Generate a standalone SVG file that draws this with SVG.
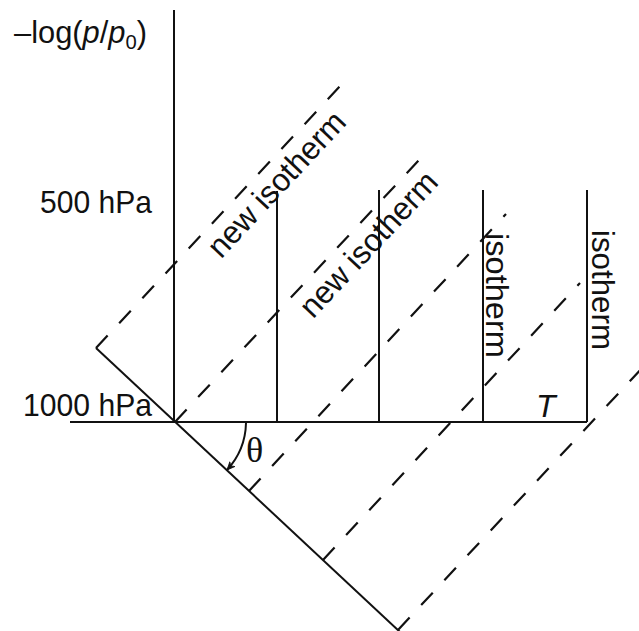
<svg xmlns="http://www.w3.org/2000/svg" width="639" height="631" viewBox="0 0 639 631">
<style>
.ax{stroke:#111;stroke-width:2;fill:none}
.ds{stroke:#111;stroke-width:2.2;fill:none;stroke-dasharray:17 17}
.t{font-family:"Liberation Sans",Arial,sans-serif;font-size:32px;fill:#111}
</style>
<defs>
<marker id="ah" markerWidth="10" markerHeight="10" refX="8" refY="5" orient="auto" markerUnits="userSpaceOnUse">
<path d="M0,1.5 L8,5 L0,8.5 L2.5,5 Z" fill="#111" stroke="#111" stroke-width="0.8"/>
</marker>
</defs>
<rect width="639" height="631" fill="#fff"/>
<g id="connectors">
<line class="ax" x1="174" y1="10" x2="174" y2="422"/>
<line class="ax" x1="70" y1="422" x2="587" y2="422"/>
<line class="ax" x1="96" y1="348" x2="400" y2="632"/>
<line class="ax" x1="277" y1="191" x2="277" y2="422"/>
<line class="ax" x1="379" y1="190" x2="379" y2="422"/>
<line class="ax" x1="483" y1="190" x2="483" y2="422"/>
<line class="ax" x1="587" y1="190" x2="587" y2="422"/>
<line class="ds" x1="96" y1="348" x2="342" y2="84"/>
<line class="ds" x1="175" y1="422" x2="419" y2="160"/>
<line class="ds" x1="249" y1="491" x2="506" y2="214"/>
<line class="ds" x1="323" y1="560" x2="580" y2="283"/>
<line class="ds" x1="398" y1="630" x2="657" y2="352"/>
<path class="ax" d="M246,423 A72,72 0 0 1 227,470" stroke-width="1.6" marker-end="url(#ah)"/>
</g>
<g id="axis-label"><text class="t" x="14" y="43" textLength="133" lengthAdjust="spacingAndGlyphs">–log(<tspan font-style="italic">p</tspan>/<tspan font-style="italic">p</tspan><tspan font-size="21" dy="6">0</tspan><tspan dy="-6">)</tspan></text></g>
<g id="p500"><text class="t" x="40" y="213" textLength="112" lengthAdjust="spacingAndGlyphs">500 hPa</text></g>
<g id="p1000"><text class="t" x="23" y="416" textLength="129" lengthAdjust="spacingAndGlyphs">1000 hPa</text></g>
<g id="new-isotherm-1"><text class="t" transform="translate(96,348) rotate(-47)" x="150" y="31" textLength="186" lengthAdjust="spacingAndGlyphs">new isotherm</text></g>
<g id="new-isotherm-2"><text class="t" transform="translate(175,422) rotate(-47)" x="169" y="31" textLength="186" lengthAdjust="spacingAndGlyphs">new isotherm</text></g>
<g id="isotherm-1"><text class="t" transform="translate(486,233) rotate(90)" x="0" y="0" textLength="125" lengthAdjust="spacingAndGlyphs">isotherm</text></g>
<g id="isotherm-2"><text class="t" transform="translate(592,230) rotate(90)" x="0" y="0" textLength="120" lengthAdjust="spacingAndGlyphs">isotherm</text></g>
<g id="T"><text class="t" x="536" y="417" font-style="italic" font-size="33">T</text></g>
<g id="theta"><text x="246" y="462" style="font-family:'Liberation Serif','Times New Roman',serif;font-size:36px;fill:#111">θ</text></g>
</svg>
